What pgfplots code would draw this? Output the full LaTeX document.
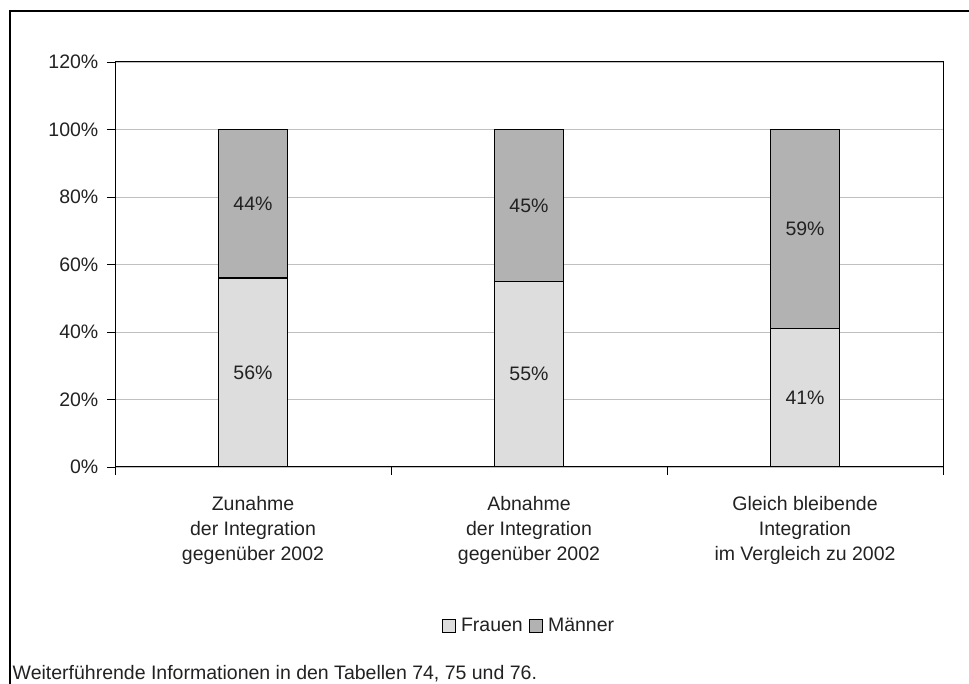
\documentclass[border=0pt]{standalone}
\usepackage{pgfplots}
\pgfplotsset{compat=1.18}
\usepackage{fontspec}
\setmainfont{Liberation Sans}
\definecolor{frau}{HTML}{DDDDDD}
\definecolor{mann}{HTML}{B2B2B2}
\definecolor{gridc}{HTML}{C0C0C0}
\definecolor{txt}{HTML}{222222}
\begin{document}
\fontsize{19.5bp}{25bp}\selectfont
\begin{tikzpicture}[x=1bp,y=1bp]
\path[use as bounding box] (0,0) rectangle (969,684);
\draw[line width=2bp] (10,0) -- (10,673) -- (969,673);
\pgfplotsset{
  base/.style={
    at={(115bp,217bp)}, anchor=south west,
    scale only axis, width=828bp, height=405bp,
    xmin=-0.5, xmax=2.5, ymin=0, ymax=120,
  }
}
\begin{axis}[base,
  ybar stacked, bar width=69bp,
  ytick={0,20,...,120},
  yticklabels={0\%,20\%,40\%,60\%,80\%,100\%,120\%},
  ymajorgrids, major grid style={draw=gridc, line width=0.8bp},
  xtick={-0.5,0.5,1.5,2.5},
  x tick label as interval,
  xtick pos=bottom, ytick pos=left,
  xticklabels={{Zunahme\\der Integration\\gegenüber 2002},{Abnahme\\der Integration\\gegenüber 2002},{Gleich bleibende\\Integration\\im Vergleich zu 2002}},
  xticklabel style={align=center, text=txt, font=\fontsize{19.5bp}{25bp}\selectfont, yshift=-15bp},
  yticklabel style={text=txt, font=\fontsize{19.5bp}{25bp}\selectfont, xshift=-2bp},
  tick align=outside, major tick length=8bp,
  tick style={black, line width=0.8bp},
  axis line style={black, line width=1bp},
  legend style={at={(0.5,-0.3926)}, anchor=center, draw=none, legend columns=2,
    font=\fontsize{19.5bp}{25bp}\selectfont, text=txt,
    /tikz/every odd column/.append style={column sep=3bp},
    /tikz/every even column/.append style={column sep=4bp}},
  legend image code/.code={\draw[#1, draw=black, line width=1.2bp] (0bp,-6.5bp) rectangle (13bp,6.5bp);},
]
\addplot[fill=frau, draw=black, line width=1.2bp] coordinates {(0,56) (1,55) (2,41)};
\addplot[fill=mann, draw=black, line width=1.2bp] coordinates {(0,44) (1,45) (2,59)};
\legend{Frauen, Männer}
\end{axis}
\begin{axis}[base, hide axis]
\addplot[draw=none, mark=none, nodes near coords, point meta=explicit symbolic,
  every node near coord/.style={anchor=center, text=txt, font=\fontsize{19.5bp}{25bp}\selectfont}]
  coordinates {(0,28) [56\%] (1,27.5) [55\%] (2,20.5) [41\%]};
\addplot[draw=none, mark=none, nodes near coords, point meta=explicit symbolic,
  every node near coord/.style={anchor=center, text=txt, font=\fontsize{19.5bp}{25bp}\selectfont}]
  coordinates {(0,78) [44\%] (1,77.5) [45\%] (2,70.5) [59\%]};
\end{axis}
\node[anchor=base west, text=txt, inner sep=0pt] at (12.5,4) {Weiterführende Informationen in den Tabellen 74, 75 und 76.};
\end{tikzpicture}
\end{document}
